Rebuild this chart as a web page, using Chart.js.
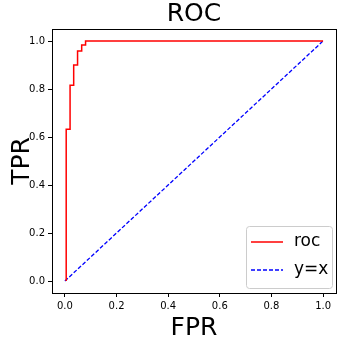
<!DOCTYPE html>
<html>
<head>
<meta charset="utf-8">
<script src="https://cdn.jsdelivr.net/npm/chart.js@4"></script>
<style>
  html, body { margin: 0; padding: 0; background: #fff; }
  #wrap { width: 338px; height: 341px; }
</style>
</head>
<body>
<div id="wrap"><canvas id="roc"></canvas></div>
<script>
// ==== DATA ====
const fpr = [0.005, 0.005, 0.02, 0.02, 0.034, 0.034, 0.049, 0.049, 0.065, 0.065, 0.08, 0.08, 1.0];
const tpr = [0.0, 0.632, 0.632, 0.816, 0.816, 0.9, 0.9, 0.958, 0.958, 0.983, 0.983, 1.0, 1.0];
const diagX = [0, 1];
const diagY = [0, 1];
const tickValues = [0, 0.2, 0.4, 0.6, 0.8, 1.0];
const seriesLabels = ["roc", "y=x"];

const FONT = "'DejaVu Sans', sans-serif";

// ==== FRAME + LEGEND PLUGIN ====
const framePlugin = {
  id: "frame",
  afterDraw(chart) {
    const { ctx, chartArea: a } = chart;
    ctx.save();
    ctx.strokeStyle = "#000";
    ctx.lineWidth = 1;
    ctx.strokeRect(a.left + 0.5, a.top + 0.5, a.right - a.left, a.bottom - a.top);

    // legend box, lower right
    const w = 86, h = 62;
    const x = a.right - w - 4, y = a.bottom - h - 5;
    ctx.fillStyle = "rgba(255,255,255,0.8)";
    ctx.strokeStyle = "#ccc";
    ctx.beginPath();
    ctx.roundRect(x + 0.5, y + 0.5, w, h, 3);
    ctx.fill();
    ctx.stroke();

    ctx.font = "17px " + FONT;
    ctx.textBaseline = "middle";
    chart.data.datasets.forEach((ds, i) => {
      const ly = y + 16 + i * 28;
      ctx.strokeStyle = ds.borderColor;
      ctx.lineWidth = ds.borderWidth;
      ctx.setLineDash(ds.borderDash || []);
      ctx.beginPath();
      ctx.moveTo(x + 5, ly);
      ctx.lineTo(x + 37, ly);
      ctx.stroke();
      ctx.setLineDash([]);
      ctx.fillStyle = "#000";
      ctx.fillText(ds.label, x + 48, ly);
    });
    ctx.restore();
  }
};

// ==== CHART ====
const axisCommon = {
  type: "linear",
  min: -0.05,
  max: 1.05,
  afterBuildTicks: s => { s.ticks = tickValues.map(v => ({ value: v })); },
  grid: { display: true, drawOnChartArea: false, drawTicks: true, tickLength: 4, color: "#000" },
  border: { display: false },
  ticks: {
    color: "#000",
    padding: 3,
    font: { family: FONT, size: 10 },
    callback: v => v.toFixed(1)
  }
};

new Chart(document.getElementById("roc"), {
  type: "line",
  data: {
    datasets: [
      {
        label: seriesLabels[0],
        data: fpr.map((x, i) => ({ x, y: tpr[i] })),
        borderColor: "red",
        borderWidth: 1.5,
        pointRadius: 0,
        fill: false,
        tension: 0
      },
      {
        label: seriesLabels[1],
        data: diagX.map((x, i) => ({ x, y: diagY[i] })),
        borderColor: "blue",
        borderWidth: 1.3,
        borderDash: [4, 2],
        pointRadius: 0,
        fill: false,
        tension: 0
      }
    ]
  },
  options: {
    responsive: true,
    maintainAspectRatio: false,
    animation: false,
    layout: { padding: { left: 10, right: 2, top: 0, bottom: 0 } },
    plugins: {
      legend: { display: false },
      tooltip: { enabled: false },
      title: {
        display: true,
        text: "ROC",
        color: "#000",
        fullSize: false,
        font: { family: FONT, size: 25, weight: "normal", lineHeight: 1 },
        padding: { top: 2, bottom: 2 }
      }
    },
    scales: {
      x: {
        ...axisCommon,
        title: { display: true, text: "FPR", color: "#000", font: { family: FONT, size: 25, lineHeight: 1 }, padding: { top: 4, bottom: 0 } },
        afterFit: s => { s.height = 48; }
      },
      y: {
        ...axisCommon,
        title: { display: true, text: "TPR", color: "#000", font: { family: FONT, size: 25, lineHeight: 1 }, padding: { top: 0, bottom: 4 } },
        afterFit: s => { s.width = 42; }
      }
    }
  },
  plugins: [framePlugin]
});
</script>
</body>
</html>
